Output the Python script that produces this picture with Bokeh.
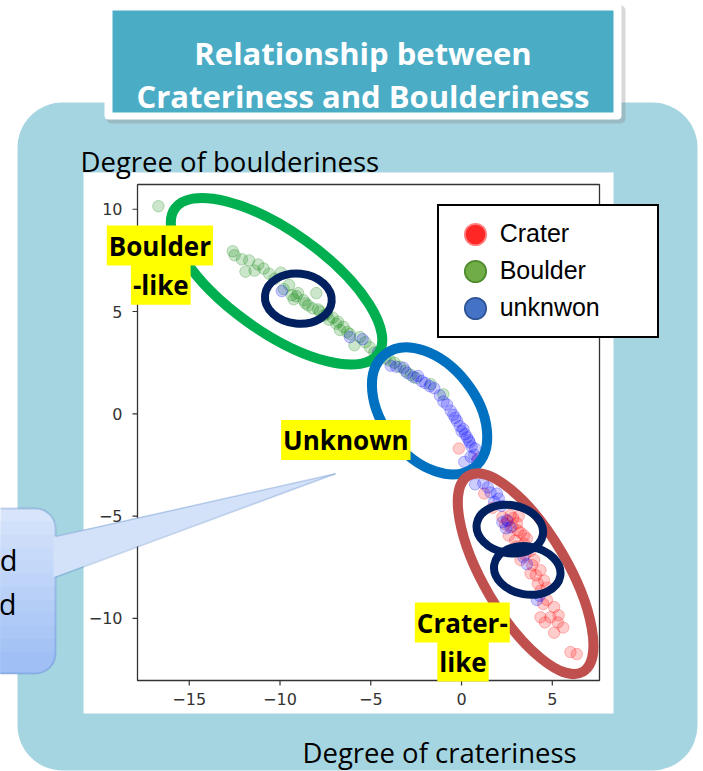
from bokeh.plotting import figure
from bokeh.models import (Label, BoxAnnotation, PolyAnnotation, Legend, LegendItem, Range1d)
from bokeh.core.properties import value
from bokeh.embed import file_html
from bokeh.resources import INLINE

# ---------------- data ----------------
crater_x = [-0.15, 0.9, 1.25, 1.7, 2.25, 2.7, 3.05, 3.25, 3.45, 2.6, 2.95, 3.45, 3.8, 3.25, 4.0,
            4.35, 3.8, 4.55, 4.7, 4.35, 4.7, 5.1, 4.35, 4.9, 5.35, 5.6, 5.1, 6.0, 6.35, 2.8,
            3.1, 3.0, 3.6, 3.5, 3.9, 4.1, 4.2, 4.5, 4.6, 5.3, 2.4, 3.3, 2.85, 2.55, 3.15]
crater_y = [-1.7, -2.2, -3.9, -4.6, -5.05, -4.95, -5.35, -5.8, -5.95, -5.95, -6.2, -6.35, -6.7, -7.15, -7.15,
            -7.65, -7.8, -8.15, -8.5, -8.65, -9.1, -9.45, -9.95, -9.95, -9.85, -10.45, -10.7, -11.65, -11.75, -5.5,
            -5.7, -6.5, -6.1, -6.9, -7.4, -7.9, -8.3, -9.3, -10.2, -10.2, -5.4, -6.6, -5.1, -5.25, -5.0]

boulder_x = [-16.7, -12.6, -12.5, -12.1, -11.7, -11.9, -11.2, -10.9, -10.6, -10.3,
             -9.95, -9.8, -9.5, -9.35, -9.25, -9.0, -8.7, -8.45, -8.0, -8.2,
             -7.8, -7.6, -7.3, -7.1, -6.9, -6.7, -6.5, -6.3, -6.15, -5.9,
             -5.6, -5.3, -5.05, -4.8, -4.5, -4.2, -3.95, -3.7, -3.4, -3.1,
             -2.8, -2.5, -1.7, -1.0, -9.1, -8.6, -7.9, -7.4, -6.8, -11.4]
boulder_y = [10.15, 7.95, 7.75, 7.55, 7.5, 6.95, 7.3, 7.1, 6.85, 6.6,
             6.9, 6.1, 6.3, 5.8, 5.6, 5.9, 5.55, 5.3, 5.9, 5.15,
             5.0, 4.8, 4.6, 4.7, 4.4, 4.1, 4.25, 4.0, 3.9, 3.35,
             3.75, 3.5, 3.25, 3.0, 2.95, 2.7, 2.6, 2.5, 2.3, 2.1,
             1.9, 1.75, 1.45, 0.95, 5.75, 5.4, 5.1, 4.9, 4.5, 7.0]

unknown_x = [-9.9, -6.15, -5.45, -4.6, -3.9, -3.6, -3.2, -3.0, -2.65, -2.4,
             -2.2, -2.0, -1.75, -1.5, -1.2, -1.0, -0.8, -0.6, -0.45, -0.25,
             -0.1, 0.0, 0.2, 0.3, 0.45, 0.55, 0.75, 0.7, 0.15, 0.5,
             0.85, 0.75, 1.2, 1.45, 1.6, 1.95, 2.05, 1.8, 2.2, 2.25,
             2.5, 2.7, 2.45, 3.6, 3.4, 4.15, 4.3, -0.35, 0.1, 0.4]
unknown_y = [6.0, 3.75, 3.65, 3.0, 2.35, 2.3, 2.25, 2.0, 1.8, 1.85,
             1.6, 1.5, 1.35, 1.25, 0.9, 0.6, 0.45, 0.15, -0.05, -0.35,
             -0.6, -0.85, -1.0, -1.15, -1.4, -1.6, -1.7, -2.0, -2.35, -2.1,
             -2.3, -3.45, -3.4, -3.6, -3.85, -3.9, -4.15, -4.3, -4.5, -5.3,
             -5.2, -5.55, -5.6, -7.35, -7.0, -9.1, -8.9, -0.2, -0.75, -1.3]

legend_labels = ["Crater", "Boulder", "unknwon"]
x_limits = [-17.85, 7.6]
y_limits = [-13.04, 11.21]
x_ticks = [-15, -10, -5, 0, 5]
x_tick_labels = ["\u221215", "\u221210", "\u22125", "0", "5"]
y_ticks = [-10, -5, 0, 5, 10]
y_tick_labels = ["\u221210", "\u22125", "0", "5", "10"]
title_lines = ["Relationship between", "Crateriness and Boulderiness"]
x_title = "Degree of crateriness"
y_title = "Degree of boulderiness"
region_texts = ["Boulder", "-like", "Unknown", "Crater-", "like"]
callout_texts = ["d", "d"]

# ---------------- canvas: page-pixel coordinates ----------------
W, H = 703, 771
FRAME_L, FRAME_R, FRAME_T, FRAME_B = 137, 599, 184, 680   # scatter frame, page px

X_LO, X_HI = x_limits
Y_LO, Y_HI = y_limits
kx = (X_HI - X_LO) / (FRAME_R - FRAME_L)     # data units per px
ky = (Y_HI - Y_LO) / (FRAME_B - FRAME_T)

p = figure(width=W, height=H, x_range=Range1d(0, W), y_range=Range1d(H, 0),
           x_axis_location=None, y_axis_location=None,
           output_backend="svg", toolbar_location=None, min_border=0)
p.title = None
p.grid.visible = False
p.outline_line_color = None
p.border_fill_color = "white"
p.background_fill_color = "white"
p.extra_x_ranges = {"dx": Range1d(X_LO - FRAME_L * kx, X_HI + (W - FRAME_R) * kx)}
p.extra_y_ranges = {"dy": Range1d(Y_LO - (H - FRAME_B) * ky, Y_HI + FRAME_T * ky)}
D = dict(x_range_name="dx", y_range_name="dy")


# ---------------- background decoration ----------------
def box(l, r, t, b, color, radius=0, level="underlay", alpha=1.0, line_color=None, line_width=1):
    return BoxAnnotation(left=l, right=r, top=t, bottom=b, fill_color=color, fill_alpha=alpha,
                         line_color=line_color, line_width=line_width, border_radius=radius,
                         level=level, editable=False)


p.add_layout(box(17, 697, 102, 770, "#A6D5E2", radius=45))
p.add_layout(box(83, 613, 172, 713, "white"))
p.add_layout(box(106, 625, 5, 123, "#7f7f7f", radius=5, alpha=0.3))
p.add_layout(box(104, 621, 3, 119, "white", radius=4))
p.add_layout(box(112, 613, 10, 112, "#4BACC6"))


def text(x, y, s, size, bold=False, color="black", align="left", font="Open Sans", baseline="alphabetic",
         bg=None, pad=0, level="annotation"):
    return Label(x=x, y=y, text=s, text_font=font, text_font_size=size,
                 text_font_style="bold" if bold else "normal", text_color=color,
                 text_align=align, text_baseline=baseline, background_fill_color=bg,
                 background_fill_alpha=1.0 if bg else 0.0, padding=pad, level=level)


p.add_layout(text(362.5, 52, title_lines[0], "31px", bold=True, color="white", align="center"))
p.add_layout(text(362.5, 95, title_lines[1], "31px", bold=True, color="white", align="center"))
p.add_layout(text(80, 161, y_title, "27.5px"))
p.add_layout(text(302, 752, x_title, "27.5px"))

# ---------------- axes frame, ticks, tick labels (data space) ----------------
p.quad(left=[X_LO], right=[X_HI], bottom=[Y_LO], top=[Y_HI], fill_alpha=0,
       line_color="#333333", line_width=1.3, **D)
p.segment(x0=x_ticks, y0=[Y_LO] * len(x_ticks), x1=x_ticks, y1=[Y_LO - 5 * ky] * len(x_ticks),
          line_color="#333333", line_width=1.2, **D)
p.segment(x0=[X_LO] * len(y_ticks), y0=y_ticks, x1=[X_LO - 5 * kx] * len(y_ticks), y1=y_ticks,
          line_color="#333333", line_width=1.2, **D)
p.text(x=x_ticks, y=[Y_LO] * len(x_ticks), text=x_tick_labels, y_offset=18,
       text_align="center", text_baseline="middle", text_font=value("DejaVu Sans"),
       text_font_size=value("16px"), text_color="#333333", **D)
p.text(x=[X_LO] * len(y_ticks), y=y_ticks, text=y_tick_labels, x_offset=-15,
       text_align="right", text_baseline="middle", text_font=value("DejaVu Sans"),
       text_font_size=value("16px"), text_color="#333333", **D)

# ---------------- scatter ----------------
p.scatter(crater_x, crater_y, size=11.5, fill_color="red", line_color="red", fill_alpha=0.2, line_alpha=0.25, **D)
p.scatter(boulder_x, boulder_y, size=11.5, fill_color="green", line_color="green", fill_alpha=0.2, line_alpha=0.25, **D)
p.scatter(unknown_x, unknown_y, size=11.5, fill_color="blue", line_color="blue", fill_alpha=0.2, line_alpha=0.25, **D)

# ---------------- highlight ellipses ----------------
E = dict(angle_units="deg", width_units="screen", height_units="screen", fill_alpha=0, **D)
p.ellipse(x=[-10.19], y=[6.48], width=[250], height=[100], angle=[-35.6], line_color="#00B050", line_width=10, **E)
p.ellipse(x=[-1.76], y=[0.14], width=[144], height=[93], angle=[-51.7], line_color="#0070C0", line_width=10, **E)
p.ellipse(x=[3.53], y=[-7.82], width=[227], height=[84], angle=[-59.7], line_color="#C0504D", line_width=10, **E)
p.ellipse(x=[-8.99, 2.66, 3.62], y=[5.63, -5.64, -7.66], width=[67, 67, 67], height=[50, 48, 48],
          angle=[-6, -10, -10], line_color="#002060", line_width=8, **E)

# ---------------- region labels ----------------
for (cx, cy), s in zip([(159.4, 245.1), (160.3, 284.3), (345.3, 439.5), (461.8, 622), (462.5, 661)], region_texts):
    p.add_layout(text(cx, cy, s, "26px", bold=True, align="center", baseline="middle", bg="#FFFF00", pad=2))

# ---------------- legend ----------------
far = [1.0e6]
leg_styles = [("#FF8080", "#FF2626"), ("#4E8A2E", "#70AD47"), ("#2F5597", "#4472C4")]
items = []
for lab, (edge, fill) in zip(legend_labels, leg_styles):
    r1 = p.scatter(far, far, size=1, fill_alpha=0, line_color=edge, line_width=9.5)
    r2 = p.scatter(far, far, size=1, fill_color=fill, line_color=fill, line_width=6)
    items.append(LegendItem(label=lab, renderers=[r1, r2]))
legend = Legend(items=items, location=(436.7, H - 337.7), padding=11, spacing=3, margin=0,
                glyph_width=50, glyph_height=34, label_standoff=0, label_width=146,
                label_text_font="Liberation Sans", label_text_font_size="25px", label_text_color="black",
                border_line_color="black", border_line_width=2, border_line_alpha=1,
                background_fill_color="white", background_fill_alpha=1)
p.add_layout(legend)

# ---------------- callout (speech bubble, partly off the page) ----------------
band_tops = [508, 521, 534, 547, 560, 573, 586, 599, 612, 625, 638, 651]
band_cols = ["#D7E4FA", "#D2E1FA", "#CDDDF9", "#C8DAF9", "#C3D7F8", "#BED4F8",
             "#B9D0F7", "#B4CDF7", "#AFCAF6", "#AAC7F6", "#A5C3F5", "#A0C0F5"]
for i, (t, c) in enumerate(zip(band_tops, band_cols)):
    rad = 20 if i == 0 else (0, 0, 20, 20)
    p.add_layout(box(-20, 55, t, 673, c, radius=rad, level="overlay"))
p.add_layout(box(-20, 55, 508, 673, "white", radius=20, level="overlay", alpha=0.0,
                 line_color="#4A7CC0", line_width=2))
p.add_layout(PolyAnnotation(xs=[53, 335, 53], ys=[536, 473.3, 576.7], fill_color="#D3E1F9", fill_alpha=1,
                            line_alpha=0, level="overlay", editable=False))
for (x0, y0) in [(55, 536), (55, 576.7)]:
    p.add_layout(PolyAnnotation(xs=[x0, 335], ys=[y0, 473.3], fill_alpha=0, line_color="#4A7CC0",
                                line_width=1.5, level="overlay", editable=False))
p.add_layout(text(17, 559, callout_texts[0], "29px", align="right", level="overlay"))
p.add_layout(text(16, 603, callout_texts[1], "29px", align="right", level="overlay"))

open("out.html", "w").write(file_html(p, INLINE))
